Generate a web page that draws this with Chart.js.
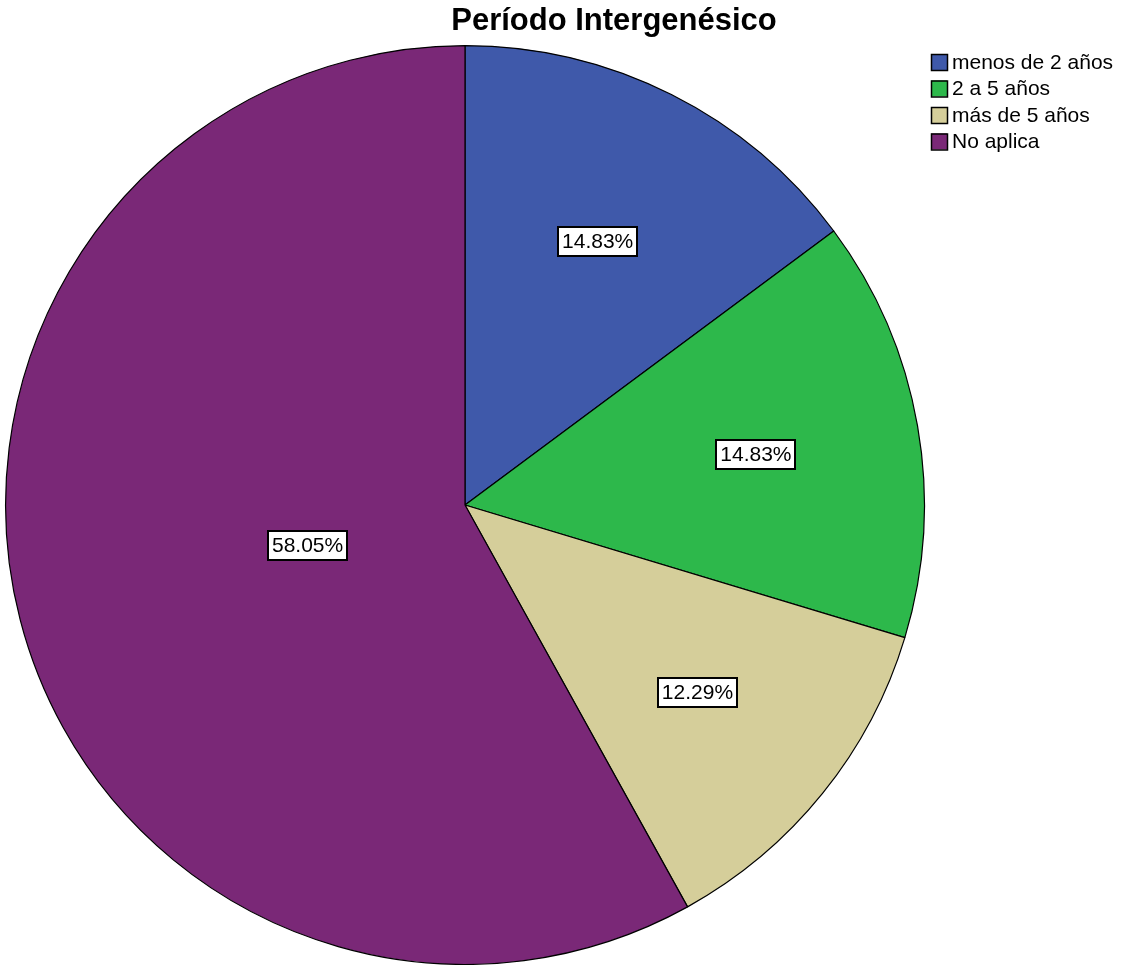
<!DOCTYPE html>
<html>
<head>
<meta charset="utf-8">
<title>Período Intergenésico</title>
<script src="https://cdn.jsdelivr.net/npm/chart.js@4.4.1/dist/chart.umd.min.js"></script>
<style>
  html, body { margin: 0; padding: 0; background: #fff; }
  #wrap { width: 1123px; height: 965px; position: relative; }
</style>
</head>
<body>
<div id="wrap"><canvas id="myChart"></canvas></div>

<script>
    // data
    const chartTitle = "Período Intergenésico";
    const categories = ["menos de 2 años", "2 a 5 años", "más de 5 años", "No aplica"];
    const percents = [14.83, 14.83, 12.29, 58.05];
    const sliceColors = ["#3F59AA", "#2DB84B", "#D5CE9A", "#7A2877"];

    const FONT = "'Liberation Sans', Arial, sans-serif";

    // label boxes, title and legend drawn by hand (SPSS look)
    const spssDecor = {
        id: "spssDecor",
        afterDatasetsDraw(chart) {
            const ctx = chart.ctx;
            const meta = chart.getDatasetMeta(0);
            ctx.save();
            ctx.font = "21px " + FONT;
            ctx.textAlign = "center";
            ctx.textBaseline = "middle";
            meta.data.forEach(function(arc, i) {
                const p = arc.getProps(["x", "y", "startAngle", "endAngle", "outerRadius"], true);
                const theta = p.endAngle - p.startAngle;
                const mid = p.startAngle + theta / 2;
                // distance of the sector's centroid from the centre
                const d = 2 * p.outerRadius * Math.sin(theta / 2) / (3 * theta / 2);
                const cx = p.x + Math.cos(mid) * d;
                const cy = p.y + Math.sin(mid) * d;
                const txt = percents[i].toFixed(2) + "%";
                const w = Math.round(ctx.measureText(txt).width + 8);
                const h = 29;
                const bx = Math.round(cx - w / 2), by = Math.round(cy - h / 2);
                ctx.fillStyle = "#fff";
                ctx.fillRect(bx, by, w, h);
                ctx.strokeStyle = "#000";
                ctx.lineWidth = 2;
                ctx.strokeRect(bx, by, w, h);
                ctx.fillStyle = "#000";
                ctx.fillText(txt, cx, cy + 1);
            });

            // title
            ctx.font = "bold 31px " + FONT;
            ctx.fillStyle = "#000";
            ctx.fillText(chartTitle, 614, 21);

            // legend
            ctx.font = "21px " + FONT;
            ctx.textAlign = "left";
            categories.forEach(function(lab, i) {
                const y = 62 + i * 26.5;
                ctx.fillStyle = sliceColors[i];
                ctx.fillRect(931, y - 8, 16, 16);
                ctx.strokeStyle = "#000";
                ctx.lineWidth = 1.5;
                ctx.strokeRect(931.5, y - 7.5, 16, 16);
                ctx.fillStyle = "#000";
                ctx.fillText(lab, 952, y + 1);
            });
            ctx.restore();
        }
    };

    new Chart("myChart", {
        type: "pie",
        data: {
            labels: categories,
            datasets: [{
                data: percents,
                backgroundColor: sliceColors,
                borderColor: "#000",
                borderWidth: 1.2
            }]
        },
        options: {
            responsive: true,
            maintainAspectRatio: false,
            animation: false,
            layout: { padding: { left: 5, right: 198, top: 45, bottom: 0 } },
            plugins: {
                legend: { display: false },
                title: { display: false },
                tooltip: { enabled: false }
            }
        },
        plugins: [spssDecor]
    });
</script>
</body>
</html>
